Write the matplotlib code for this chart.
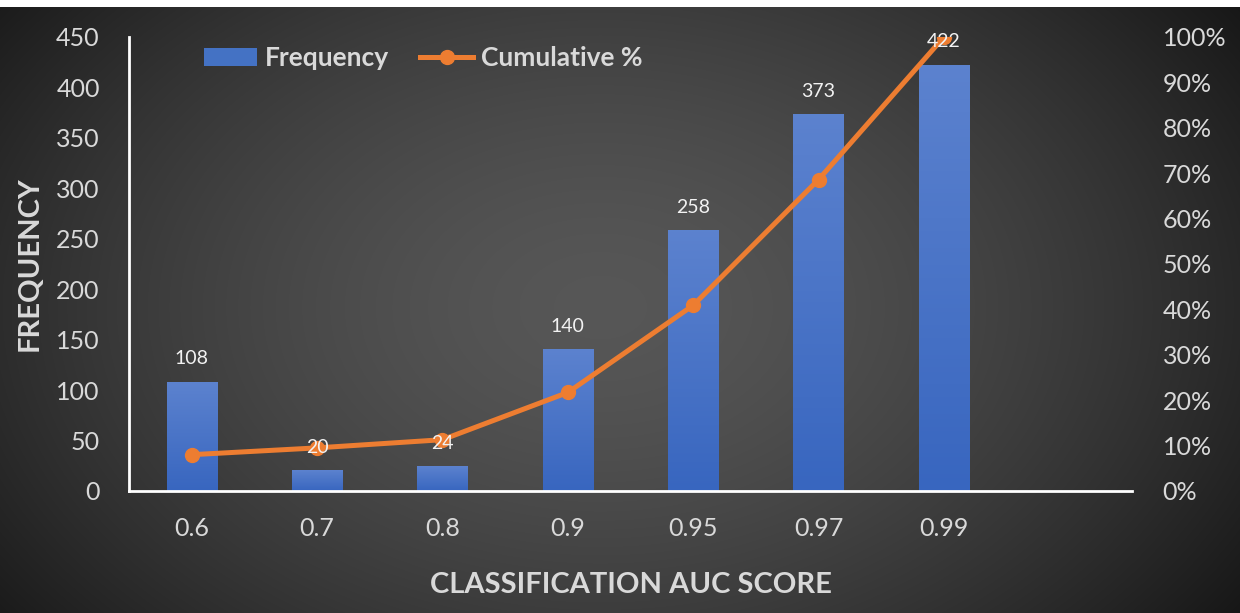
import numpy as np
import matplotlib
matplotlib.use('Agg')
import matplotlib.pyplot as plt
from matplotlib.lines import Line2D
from matplotlib.patches import Patch

# data
categories = ['0.6', '0.7', '0.8', '0.9', '0.95', '0.97', '0.99']
frequency = [108, 20, 24, 140, 258, 373, 422]
cum_pct = [8.0, 9.5, 11.3, 21.7, 40.9, 68.6, 100.0]
left_ticks = [0, 50, 100, 150, 200, 250, 300, 350, 400, 450]
right_ticks = [0, 10, 20, 30, 40, 50, 60, 70, 80, 90, 100]

plt.rcParams['font.family'] = ['Lato', 'DejaVu Sans']
txt = '#d9d9d9'
blue = '#4472c4'
orange = '#ed7d31'

fig = plt.figure(figsize=(12.4, 6.13), dpi=100)
fig.patch.set_facecolor('white')

# radial gradient background
bg = fig.add_axes([0, 0, 1, 1 - 7 / 613])
yy, xx = np.mgrid[0:606, 0:1240]
r = np.sqrt(((xx - 600) / 760.0) ** 2 + ((yy - 300) / 520.0) ** 2)
shade = np.clip(0.34 - 0.24 * r ** 1.6, 0.08, 0.34)
bg.imshow(np.dstack([shade, shade, shade]), aspect='auto', extent=[0, 1, 0, 1])
bg.axis('off')

ax = fig.add_axes([129 / 1240, 122 / 613, 1003 / 1240, 454 / 613])
ax.set_facecolor('none')
x = np.arange(len(categories))

bars = ax.bar(x, frequency, width=0.4, color=blue, zorder=2)
# soft vertical gradient on bars
grad = np.linspace(0, 1, 100).reshape(-1, 1)
top_c = np.array([0.36, 0.51, 0.81])
bot_c = np.array([0.22, 0.40, 0.75])
for b in bars:
    cols = (top_c[None, :] * (1 - grad) + bot_c[None, :] * grad).reshape(100, 1, 3)
    ax.imshow(cols, aspect='auto', zorder=2.1,
              extent=[b.get_x(), b.get_x() + b.get_width(), 0, b.get_height()])
ax.set_xlim(-0.5, 7.5)
ax.set_ylim(0, 450)

ax.set_yticks(left_ticks)
ax.set_xticks(x)
ax.set_xticklabels(categories)
ax.tick_params(axis='both', length=0, labelsize=18, colors=txt)
ax.tick_params(axis='y', pad=21)
ax.tick_params(axis='x', pad=19)
for s in ['top', 'right']:
    ax.spines[s].set_visible(False)
for s in ['left', 'bottom']:
    ax.spines[s].set_color('white')
    ax.spines[s].set_linewidth(2)
    ax.spines[s].set_zorder(4)

ax.set_ylabel('FREQUENCY', fontsize=21, fontweight='bold', color=txt, labelpad=10)
ax.set_xlabel('CLASSIFICATION AUC SCORE', fontsize=21, fontweight='bold', color=txt, labelpad=23)

ax2 = ax.twinx()
ax2.plot(x, cum_pct, color=orange, lw=3.6, marker='o', markersize=10, zorder=3)
ax2.set_ylim(0, 100)
ax2.set_yticks(right_ticks)
ax2.set_yticklabels([f'{t}%' for t in right_ticks])
ax2.tick_params(axis='y', length=0, labelsize=18, colors=txt, pad=22)
for s in ax2.spines.values():
    s.set_visible(False)
ax2.patch.set_visible(False)

# bar labels drawn on top of the line
for xi, v in zip(x, frequency):
    ax2.annotate(str(v), (xi, v), xycoords=ax.transData, xytext=(0, 17),
                 textcoords='offset points', ha='center', va='center',
                 fontsize=14, color='#f2f2f2', zorder=5)

handles = [Patch(facecolor=blue), Line2D([0], [0], color=orange, lw=3.6, marker='o', markersize=10)]
leg = fig.legend(handles, ['Frequency', 'Cumulative %'], loc='center left',
                 bbox_to_anchor=(180 / 1240, 1 - 58 / 613), ncol=2, frameon=False,
                 prop={'size': 19, 'weight': 'bold'}, handlelength=2.0, handletextpad=0.3,
                 columnspacing=1.2)
for t in leg.get_texts():
    t.set_color(txt)

fig.savefig('out.png', dpi=100)
